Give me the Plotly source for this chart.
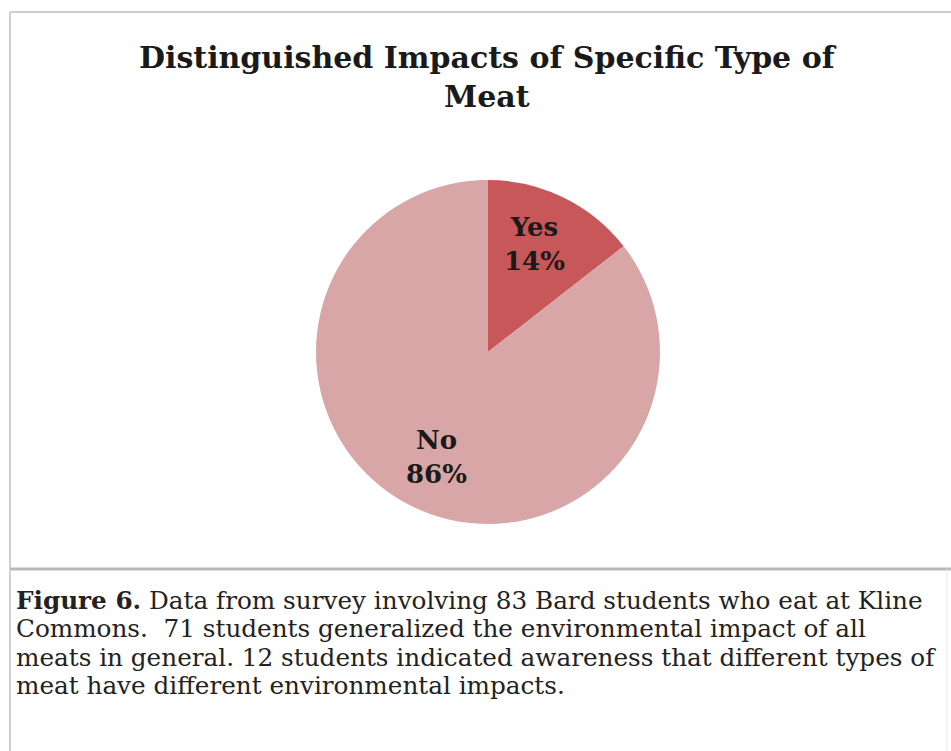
import math
import plotly.graph_objects as go

# Survey responses
categories = ["Yes", "No"]
students = [12, 71]
slice_colors = ["#C8575A", "#D9A6A7"]

title_lines = ["Distinguished Impacts of Specific Type of", "Meat"]
caption_lines = [
    "<b>Figure 6.</b> Data from survey involving 83 Bard students who eat at Kline",
    "Commons.  71 students generalized the environmental impact of all",
    "meats in general. 12 students indicated awareness that different types of",
    "meat have different environmental impacts.",
]

W, H = 951, 751
SERIF = "DejaVu Serif, Liberation Serif, serif"

# pie placement (pixels)
CX, CY, R = 488, 352, 172

fig = go.Figure()
fig.add_trace(go.Pie(
    labels=categories,
    values=students,
    sort=False,
    direction="clockwise",
    rotation=0,
    marker=dict(colors=slice_colors, line=dict(width=0)),
    textinfo="none",
    showlegend=False,
    hoverinfo="label+value+percent",
    domain=dict(x=[(CX - R) / W, (CX + R) / W], y=[1 - (CY + R) / H, 1 - (CY - R) / H]),
))

annotations = [
    dict(text="<b>" + "<br>".join(title_lines) + "</b>",
         x=488 / W, y=1 - 38 / H, xref="paper", yref="paper",
         xanchor="center", yanchor="top", showarrow=False,
         font=dict(family=SERIF, size=30, color="#1a1a1a")),
]

# slice labels placed along each slice's mid-angle
total = sum(students)
start = 0.0
for name, v in zip(categories, students):
    frac = v / total
    mid = (start + frac / 2) * 2 * math.pi
    start += frac
    px = CX + 0.68 * R * math.sin(mid)
    py = CY - 0.68 * R * math.cos(mid)
    if name == "Yes":
        px -= 5
        py -= 3
    annotations.append(dict(
        text=f"<b>{name}<br>{round(frac * 100)}%</b>",
        x=px / W, y=1 - py / H, xref="paper", yref="paper",
        xanchor="center", yanchor="middle", showarrow=False,
        font=dict(family=SERIF, size=26, color="#1a1a1a")))

for i, line in enumerate(caption_lines):
    annotations.append(dict(
        text=line, x=14 / W, y=1 - (600 + i * 28.5) / H,
        xref="paper", yref="paper", xanchor="left", yanchor="middle",
        showarrow=False, font=dict(family=SERIF, size=24.7, color="#222222")))

border = dict(color="#cfcfcf", width=2)
shapes = [
    # chart frame
    dict(type="line", xref="paper", yref="paper", x0=10 / W, x1=1, y0=1 - 12 / H, y1=1 - 12 / H, line=border),
    dict(type="line", xref="paper", yref="paper", x0=10 / W, x1=10 / W, y0=1 - 12 / H, y1=1 - 569 / H, line=border),
    # caption box
    dict(type="line", xref="paper", yref="paper", x0=10 / W, x1=1, y0=1 - 569 / H, y1=1 - 569 / H,
         line=dict(color="#b8b8b8", width=3)),
    dict(type="line", xref="paper", yref="paper", x0=10 / W, x1=10 / W, y0=1 - 569 / H, y1=0, line=border),
    dict(type="line", xref="paper", yref="paper", x0=947 / W, x1=947 / W, y0=1 - 569 / H, y1=0,
         line=dict(color="#e6e6e6", width=1)),
]

fig.update_layout(
    width=W, height=H,
    margin=dict(l=0, r=0, t=0, b=0),
    paper_bgcolor="white", plot_bgcolor="white",
    annotations=annotations, shapes=shapes,
)

fig.write_html("out.html")
